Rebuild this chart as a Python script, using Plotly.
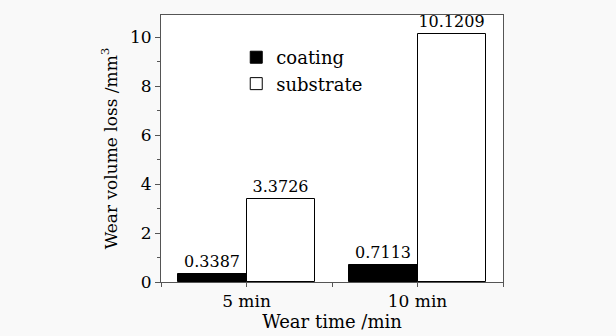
import plotly.graph_objects as go

categories = ["5 min", "10 min"]
cat_pos = [1, 2]
coating = [0.3387, 0.7113]
substrate = [3.3726, 10.1209]
y_ticks = [0, 2, 4, 6, 8, 10]

FONT = "DejaVu Serif, Liberation Serif, serif"

fig = go.Figure()
fig.add_trace(go.Bar(
    x=cat_pos, y=coating, name="coating", width=0.4, offset=-0.4,
    marker=dict(color="black", line=dict(color="black", width=1)),
    text=[f"{v:.4f}" for v in coating], textposition="outside",
    textfont=dict(family=FONT, size=16, color="black"), cliponaxis=False,
))
fig.add_trace(go.Bar(
    x=cat_pos, y=substrate, name="substrate", width=0.4, offset=0,
    marker=dict(color="white", line=dict(color="black", width=1)),
    text=[f"{v:.4f}" for v in substrate], textposition="outside",
    textfont=dict(family=FONT, size=16, color="black"), cliponaxis=False,
))

fig.update_layout(
    width=616, height=336,
    margin=dict(l=161, r=113, t=15, b=51),
    paper_bgcolor="#f9f9f9", plot_bgcolor="white",
    font=dict(family=FONT, size=16, color="black"),
    showlegend=True,
    legend=dict(x=0.22, y=0.91, xanchor="left", yanchor="top",
                bgcolor="rgba(0,0,0,0)", font=dict(family=FONT, size=18),
                tracegroupgap=2),
    bargap=0,
)
fig.update_xaxes(
    range=[0.5, 2.5], tickvals=cat_pos, ticktext=categories,
    showline=True, linecolor="#555", linewidth=1, mirror=True,
    ticks="outside", ticklen=4, tickcolor="#555",
    minor=dict(tickvals=[0.5, 1.5, 2.5], ticks="outside", ticklen=4, tickcolor="#555"),
    showgrid=False, zeroline=False,
    title=dict(text="Wear time /min", standoff=0, font=dict(family=FONT, size=18)),
    tickfont=dict(family=FONT, size=17),
)
fig.update_yaxes(
    range=[0, 10.9], tickvals=y_ticks,
    showline=True, linecolor="#555", linewidth=1, mirror=True,
    ticks="outside", ticklen=5, tickcolor="#555",
    minor=dict(dtick=1, ticks="outside", ticklen=3, tickcolor="#555"),
    showgrid=False, zeroline=False,
    title=dict(text="Wear volume loss /mm<sup>3</sup>", standoff=8, font=dict(family=FONT, size=17)),
    tickfont=dict(family=FONT, size=17),
)

fig.write_html("out.html")
